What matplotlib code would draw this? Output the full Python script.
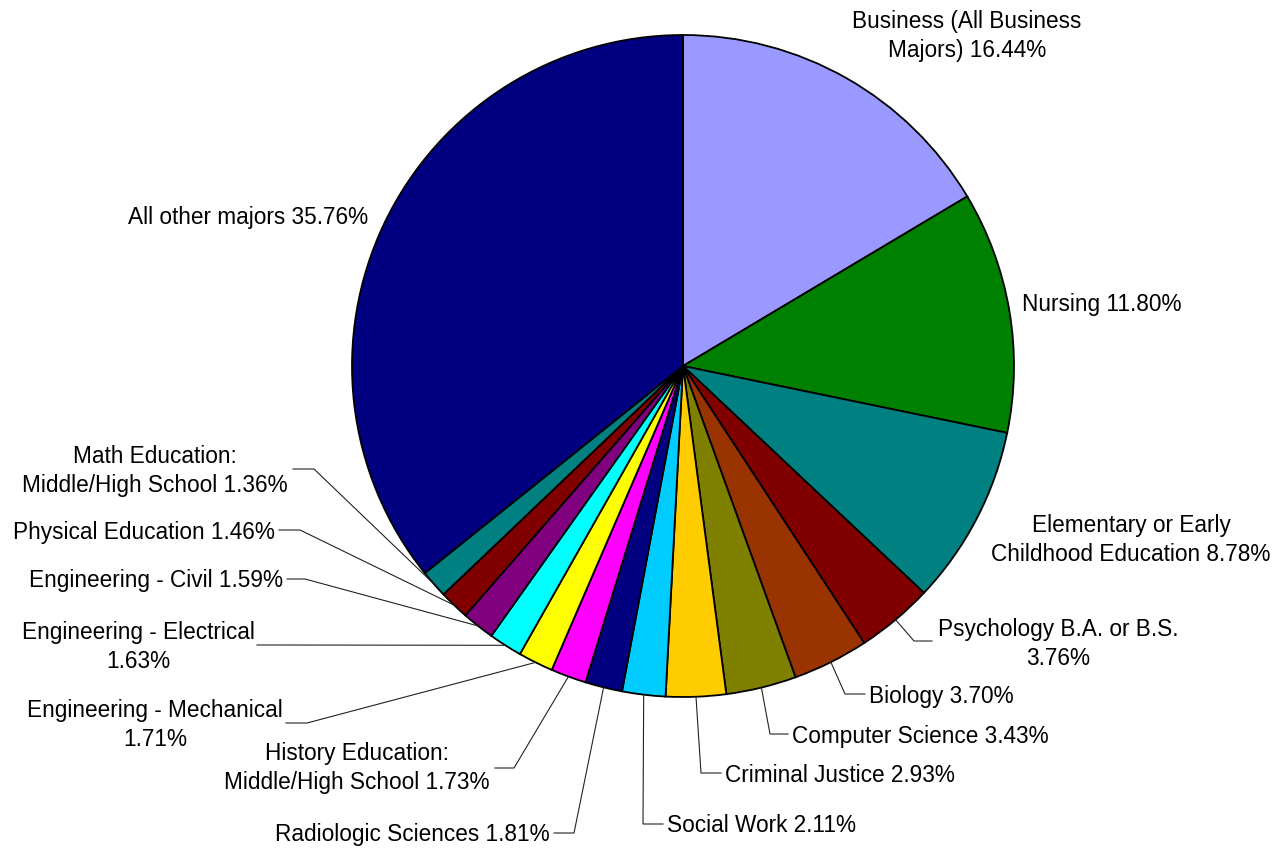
import matplotlib.pyplot as plt
import numpy as np

W, H = 1281, 849

majors = ['Business (All Business\nMajors)', 'Nursing', 'Elementary or Early\nChildhood Education',
          'Psychology B.A. or B.S.', 'Biology', 'Computer Science', 'Criminal Justice',
          'Social Work', 'Radiologic Sciences', 'History Education:\nMiddle/High School',
          'Engineering - Mechanical', 'Engineering - Electrical', 'Engineering - Civil',
          'Physical Education', 'Math Education:\nMiddle/High School', 'All other majors']
shares = [16.44, 11.80, 8.78, 3.76, 3.70, 3.43, 2.93, 2.11, 1.81, 1.73,
          1.71, 1.63, 1.59, 1.46, 1.36, 35.76]
colors = ['#9999FF', '#008000', '#008080', '#800000', '#993300', '#808000', '#FFCC00',
          '#00CCFF', '#000080', '#FF00FF', '#FFFF00', '#00FFFF', '#800080', '#800000',
          '#008080', '#000080']

# label layout in pixel coords (y down): text xy, ha, separator, leader elbow, leader end
layout = [
    ((967, 34), 'center', ' ', None, None),
    ((1022, 302), 'left', ' ', None, None),
    ((1131, 538), 'center', ' ', None, None),
    ((1058, 642), 'center', '\n', (914, 641), (932, 641)),
    ((869, 694), 'left', ' ', (845, 694), (865, 694)),
    ((792, 734), 'left', ' ', (770, 734), (788, 734)),
    ((725, 773), 'left', ' ', (701, 773), (721, 773)),
    ((667, 824), 'left', ' ', (643, 824), (663, 824)),
    ((550, 833), 'right', ' ', (574, 833), (554, 833)),
    ((357, 766), 'center', ' ', (514, 768), (495, 768)),
    ((155, 723), 'center', '\n', (307, 723), (286, 723)),
    ((138, 645), 'center', '\n', (279, 645), (257, 645)),
    ((283, 579), 'right', ' ', (305, 579), (287, 579)),
    ((275, 530), 'right', ' ', (300, 530), (279, 530)),
    ((155, 469), 'center', ' ', (314, 469), (293, 469)),
    ((368, 215), 'right', ' ', None, None),
]

plt.rcParams['font.family'] = ['Liberation Sans', 'DejaVu Sans']

fig = plt.figure(figsize=(W / 100, H / 100), dpi=100)
ax = fig.add_axes([0, 0, 1, 1])

cx, cy, r = 683, H - 366, 331
wedges, _ = ax.pie(shares, colors=colors, startangle=90, counterclock=False,
                   center=(cx, cy), radius=r,
                   wedgeprops=dict(edgecolor='black', linewidth=1.3))

for w, name, val, (txy, ha, sep, elbow, end) in zip(wedges, majors, shares, layout):
    ax.text(txy[0], H - txy[1] - 2, f'{name}{sep}{val:.2f}%', ha=ha, va='center',
            multialignment='center', fontsize=16.3, linespacing=1.33)
    if elbow is not None:
        ang = np.deg2rad((w.theta1 + w.theta2) / 2)
        x0, y0 = cx + r * np.cos(ang), cy + r * np.sin(ang)
        ax.plot([x0, elbow[0], end[0]], [y0, H - elbow[1], H - end[1]],
                color='#222222', lw=0.8)

ax.set_xlim(0, W)
ax.set_ylim(0, H)
ax.set_aspect('equal')
ax.axis('off')

fig.savefig('out.png', dpi=100)
